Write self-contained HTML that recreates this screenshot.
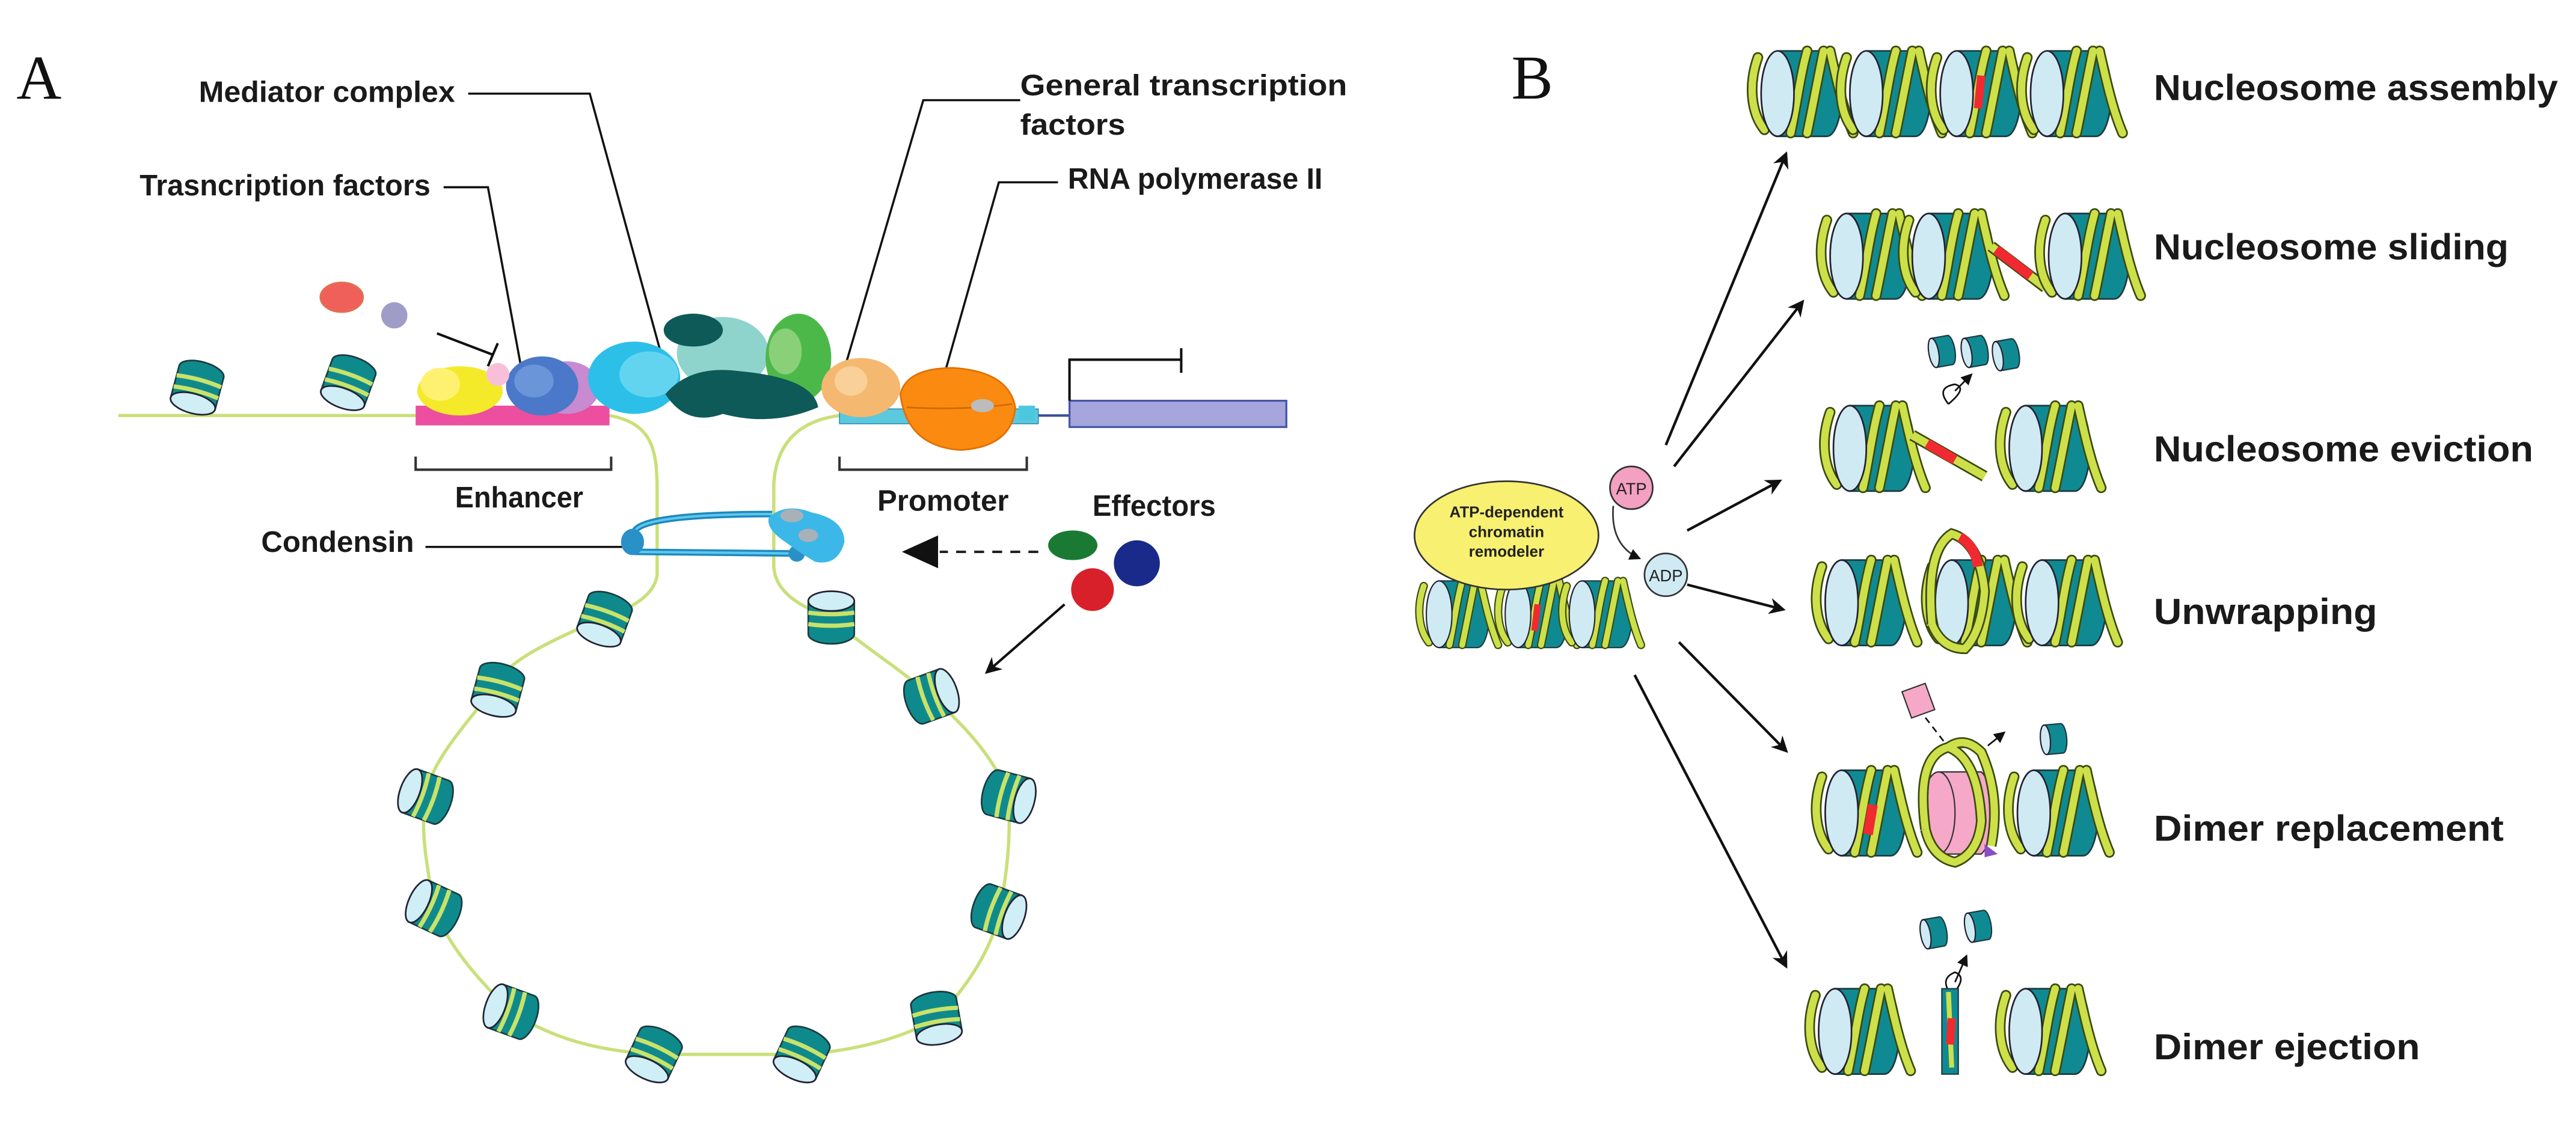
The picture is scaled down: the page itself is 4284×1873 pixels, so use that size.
<!DOCTYPE html>
<html><head><meta charset="utf-8"><style>
html,body{margin:0;padding:0;background:#fff;}
svg{display:block;}
.l{font-family:"Liberation Sans Narrow","Liberation Sans",sans-serif;font-weight:bold;fill:#1a1a1a;}
.s{font-family:"Liberation Serif",serif;fill:#111;}
</style></head><body>
<svg width="4284" height="1873" viewBox="0 0 1568 685.6" preserveAspectRatio="none" xmlns="http://www.w3.org/2000/svg">
<defs>
<g id="na">
 <path d="M-10,-14 L10,-14 A6,14 0 0 1 10,14 L-10,14 Z" fill="#0f8a8c" stroke="#1a3b40" stroke-width="1"/>
 <path d="M-3,-14 Q-1,0 -3,14 M4,-14 Q6,0 4,14" stroke="#c9e26a" stroke-width="2.6" fill="none"/>
 <ellipse cx="-10" cy="0" rx="6" ry="14" fill="#cfeef5" stroke="#223" stroke-width="1"/>
</g>
<g id="nb">
 <path d="M0,-26 L30,-26 A9,26 0 0 1 30,26 L0,26 Z" fill="#0f8a93" stroke="#1d3a40" stroke-width="1"/>
 <g fill="none" stroke-linecap="round">
  <path d="M-12,-22 C-18,-5 -16,12 -8,22 M8,24 C12,5 14,-12 18,-26 M18,24 C22,5 25,-12 28,-26 M32,-26 C36,-8 40,10 46,24" stroke="#3a4a10" stroke-width="6.5"/>
  <path d="M-12,-22 C-18,-5 -16,12 -8,22 M8,24 C12,5 14,-12 18,-26 M18,24 C22,5 25,-12 28,-26 M32,-26 C36,-8 40,10 46,24" stroke="#cde04a" stroke-width="4.5"/>
 </g>
 <ellipse cx="0" cy="0" rx="10" ry="26" fill="#cfeaf3" stroke="#223" stroke-width="1"/>
</g>
<g id="pc">
 <path d="M-5,-9 L5,-9 A3,9 0 0 1 5,9 L-5,9 Z" fill="#0f8a93" stroke="#1d3a40" stroke-width="0.8"/>
 <ellipse cx="-5" cy="0" rx="3" ry="9" fill="#cfeaf3" stroke="#223" stroke-width="0.8"/>
</g>
<marker id="ah" markerWidth="10" markerHeight="10" refX="8" refY="5" orient="auto" markerUnits="userSpaceOnUse">
 <path d="M0,0 L10,5 L0,10 L3,5 Z" fill="#111"/>
</marker>
<marker id="ahs" markerWidth="7" markerHeight="7" refX="6" refY="3.5" orient="auto" markerUnits="userSpaceOnUse">
 <path d="M0,0 L7,3.5 L0,7 Z" fill="#111"/>
</marker>
</defs>

<!-- ===== Panel A ===== -->
<text class="s" x="10" y="60" font-size="38">A</text>

<!-- labels and leader lines -->
<text class="l" x="121" y="62" font-size="18" textLength="156" lengthAdjust="spacingAndGlyphs">Mediator complex</text>
<polyline points="285,57 359,57 402,214" fill="none" stroke="#111" stroke-width="1.3"/>
<text class="l" x="85" y="119" font-size="18" textLength="177" lengthAdjust="spacingAndGlyphs">Trasncription factors</text>
<polyline points="270,114 297,114 318,228" fill="none" stroke="#111" stroke-width="1.3"/>
<text class="l" x="621" y="58" font-size="18" textLength="199" lengthAdjust="spacingAndGlyphs">General transcription</text>
<text class="l" x="621" y="82" font-size="18" textLength="64" lengthAdjust="spacingAndGlyphs">factors</text>
<polyline points="621,61 562,61 513,228" fill="none" stroke="#111" stroke-width="1.3"/>
<text class="l" x="650" y="115" font-size="18" textLength="155" lengthAdjust="spacingAndGlyphs">RNA polymerase II</text>
<polyline points="644,111 608,111 570,245" fill="none" stroke="#111" stroke-width="1.3"/>

<!-- loop DNA -->
<path d="M371,253 C398,258 400,275 400,300 L400,350 Q398,366 368,376 C330,392 305,405 300,420 C280,445 262,465 259,485 C255,510 262,535 264,553 C275,580 295,600 311,616 C340,635 370,640 398,642 L488,642 C520,640 550,632 570,620 C590,600 605,575 608,555 C614,530 615,505 614,485 C605,460 585,440 567,424 C545,405 520,390 506,376 Q472,365 471,345 L471,295 Q473,258 511,253" fill="none" stroke="#c9e07a" stroke-width="2"/>
<line x1="72" y1="253" x2="255" y2="253" stroke="#c9e07a" stroke-width="2"/>
<line x1="630" y1="253" x2="652" y2="253" stroke="#3a4f9a" stroke-width="1.5"/>

<!-- top nucleosomes -->
<use href="#na" transform="translate(120,236) rotate(-75)"/>
<use href="#na" transform="translate(212,233) rotate(-70)"/>

<!-- enhancer bar -->
<rect x="253" y="247" width="118" height="12" fill="#ec4ea0"/>
<!-- promoter bar -->
<rect x="511" y="249" width="121" height="9" fill="#5cc8de" stroke="#2a8fb0" stroke-width="0.6"/>
<!-- gene body -->
<rect x="651" y="244" width="132" height="16" fill="#a6a6dc" stroke="#4456a8" stroke-width="1.2"/>
<polyline points="651,244 651,219 719,219" fill="none" stroke="#111" stroke-width="1.5"/>
<line x1="719" y1="212" x2="719" y2="227" stroke="#111" stroke-width="1.5"/>

<!-- inhibitory signals -->
<ellipse cx="208" cy="181" rx="13" ry="9" fill="#f0605a" stroke="#e07050" stroke-width="1"/>
<circle cx="240" cy="192" r="8" fill="#a09cc8"/>
<line x1="266" y1="203" x2="300" y2="216" stroke="#111" stroke-width="1.5"/>
<line x1="297" y1="223" x2="303" y2="209" stroke="#111" stroke-width="1.5"/>

<!-- protein complexes -->
<g>
 <ellipse cx="280" cy="238" rx="26" ry="15" fill="#f5ea2a"/>
 <ellipse cx="268" cy="234" rx="12" ry="10" fill="#fff170"/>
 <ellipse cx="345" cy="236" rx="20" ry="16" fill="#c88ad0"/>
 <ellipse cx="330" cy="235" rx="22" ry="18" fill="#4b78c8"/>
 <ellipse cx="325" cy="232" rx="12" ry="10" fill="#6a95d8"/>
 <circle cx="303" cy="228" r="7" fill="#f8c0d8"/>
 <ellipse cx="386" cy="230" rx="28" ry="22" fill="#2cc0e8"/>
 <ellipse cx="395" cy="228" rx="18" ry="14" fill="#63d4f0"/>
 <ellipse cx="440" cy="215" rx="28" ry="22" fill="#8fd4cc"/>
 <ellipse cx="422" cy="201" rx="18" ry="10" fill="#0d5a58"/>
 <ellipse cx="486" cy="218" rx="20" ry="27" fill="#4cb84a"/>
 <ellipse cx="478" cy="214" rx="10" ry="14" fill="#8ad078"/>
 <path d="M405,240 Q420,222 450,226 Q495,230 498,248 Q470,260 440,252 Q418,260 405,240 Z" fill="#0d5a58"/>
 <ellipse cx="524" cy="236" rx="24" ry="18" fill="#f4b870"/>
 <ellipse cx="518" cy="232" rx="10" ry="9" fill="#f8d098"/>
 <path d="M548,240 Q552,224 580,224 Q614,226 618,248 Q616,272 585,274 Q552,272 548,240 Z" fill="#fb8a10" stroke="#e07000" stroke-width="1"/>
 <path d="M552,248 Q585,250 616,246" fill="none" stroke="#d06a00" stroke-width="1"/>
 <ellipse cx="598" cy="247" rx="7" ry="4" fill="#bcbcbc"/>
 <rect x="620" y="247" width="10" height="9" fill="#4cc8de"/>
</g>

<!-- brackets -->
<polyline points="253,278 253,286 372,286 372,278" fill="none" stroke="#333" stroke-width="1.5"/>
<text class="l" x="316" y="309" font-size="18" text-anchor="middle" textLength="78" lengthAdjust="spacingAndGlyphs">Enhancer</text>
<polyline points="511,278 511,286 625,286 625,278" fill="none" stroke="#333" stroke-width="1.5"/>
<text class="l" x="574" y="311" font-size="18" text-anchor="middle" textLength="80" lengthAdjust="spacingAndGlyphs">Promoter</text>
<text class="l" x="665" y="314" font-size="18" textLength="75" lengthAdjust="spacingAndGlyphs">Effectors</text>

<!-- condensin -->
<text class="l" x="159" y="336" font-size="18" textLength="93" lengthAdjust="spacingAndGlyphs">Condensin</text>
<line x1="259" y1="333" x2="385" y2="333" stroke="#111" stroke-width="1.3"/>
<g>
 <path d="M386,324 Q390,313 470,313 M386,336 L485,337" fill="none" stroke="#1e88c0" stroke-width="4"/>
 <path d="M386,324 Q390,313 470,313 M386,336 L485,337" fill="none" stroke="#5ec8ea" stroke-width="1.5"/>
 <ellipse cx="385" cy="330" rx="7" ry="8" fill="#2a90c8"/>
 <circle cx="485" cy="337" r="5" fill="#2a90c8"/>
 <path d="M468,315 Q478,306 494,312 Q514,316 514,330 Q510,345 496,342 Q486,336 478,330 Q466,322 468,315 Z" fill="#3cb8e8"/>
 <ellipse cx="482" cy="314" rx="7" ry="4" fill="#a8b0b8"/>
 <ellipse cx="492" cy="326" rx="6" ry="4" fill="#a8b0b8"/>
</g>

<!-- effectors -->
<line x1="632" y1="336" x2="572" y2="336" stroke="#222" stroke-width="1.5" stroke-dasharray="6,5"/>
<path d="M549,336 L571,326 L571,346 Z" fill="#111"/>
<ellipse cx="653" cy="332" rx="15" ry="9" fill="#1a7a34"/>
<circle cx="692" cy="343" r="14" fill="#1a2a8a"/>
<circle cx="665" cy="359" r="13" fill="#d8202a"/>
<line x1="648" y1="368" x2="601" y2="409" stroke="#111" stroke-width="1.5" marker-end="url(#ah)"/>

<!-- loop nucleosomes -->
<use href="#na" transform="translate(368,377) rotate(-70)"/>
<use href="#na" transform="translate(303,420) rotate(-75)"/>
<use href="#na" transform="translate(259,485) rotate(20)"/>
<use href="#na" transform="translate(264,553) rotate(25)"/>
<use href="#na" transform="translate(311,616) rotate(20)"/>
<use href="#na" transform="translate(398,642) rotate(-65)"/>
<use href="#na" transform="translate(488,642) rotate(-65)"/>
<use href="#na" transform="translate(570,620) rotate(-100)"/>
<use href="#na" transform="translate(608,555) rotate(200)"/>
<use href="#na" transform="translate(614,485) rotate(195)"/>
<use href="#na" transform="translate(567,424) rotate(160)"/>
<use href="#na" transform="translate(506,376) rotate(90)"/>

<!-- ===== Panel B ===== -->
<text class="s" x="920" y="60" font-size="38">B</text>

<!-- labels -->
<text class="l" x="1311" y="61" font-size="22" textLength="246" lengthAdjust="spacingAndGlyphs">Nucleosome assembly</text>
<text class="l" x="1311" y="158" font-size="22" textLength="216" lengthAdjust="spacingAndGlyphs">Nucleosome sliding</text>
<text class="l" x="1311" y="281" font-size="22" textLength="231" lengthAdjust="spacingAndGlyphs">Nucleosome eviction</text>
<text class="l" x="1311" y="380" font-size="22" textLength="136" lengthAdjust="spacingAndGlyphs">Unwrapping</text>
<text class="l" x="1311" y="512" font-size="22" textLength="213" lengthAdjust="spacingAndGlyphs">Dimer replacement</text>
<text class="l" x="1311" y="645" font-size="22" textLength="162" lengthAdjust="spacingAndGlyphs">Dimer ejection</text>

<!-- row 1 assembly -->
<use href="#nb" transform="translate(1082,57)"/>
<use href="#nb" transform="translate(1136,57)"/>
<use href="#nb" transform="translate(1191,57)"/>
<use href="#nb" transform="translate(1246,57)"/>
<path d="M1206,46 L1204,66" stroke="#f02a30" stroke-width="5"/>

<!-- row 2 sliding -->
<use href="#nb" transform="translate(1124,156)"/>
<use href="#nb" transform="translate(1174,156)"/>
<path d="M1212,150 L1245,175" stroke="#3a4a10" stroke-width="7"/>
<path d="M1212,150 L1245,175" stroke="#cde04a" stroke-width="5"/>
<path d="M1215,152 L1236,168" stroke="#f02a30" stroke-width="6"/>
<use href="#nb" transform="translate(1257,156)"/>

<!-- row 3 eviction -->
<use href="#pc" transform="translate(1182,214) rotate(-10)"/>
<use href="#pc" transform="translate(1202,214) rotate(-10)"/>
<use href="#pc" transform="translate(1221,216) rotate(-10)"/>
<path d="M1186,246 Q1178,236 1190,234 Q1198,236 1186,246" fill="none" stroke="#111" stroke-width="1"/>
<line x1="1190" y1="238" x2="1200" y2="228" stroke="#111" stroke-width="1" marker-end="url(#ahs)"/>
<use href="#nb" transform="translate(1126,273)"/>
<path d="M1164,265 L1208,290" stroke="#3a4a10" stroke-width="7"/>
<path d="M1164,265 L1208,290" stroke="#cde04a" stroke-width="5"/>
<path d="M1173,270 L1190,280" stroke="#f02a30" stroke-width="6"/>
<use href="#nb" transform="translate(1233,273)"/>

<!-- row 4 unwrapping -->
<use href="#nb" transform="translate(1121,367)"/>
<use href="#nb" transform="translate(1188,367)"/>
<use href="#nb" transform="translate(1243,367)"/>
<path d="M1176,380 Q1172,335 1188,325 Q1205,330 1208,360 Q1206,385 1196,395 Q1182,395 1176,380" fill="none" stroke="#3a4a10" stroke-width="6.5"/>
<path d="M1176,380 Q1172,335 1188,325 Q1205,330 1208,360 Q1206,385 1196,395 Q1182,395 1176,380" fill="none" stroke="#cde04a" stroke-width="4.5"/>
<path d="M1193,327 Q1202,332 1204,345" fill="none" stroke="#f02a30" stroke-width="6"/>

<!-- row 5 dimer replacement -->
<rect x="1160" y="418" width="15" height="17" fill="#f6a8c8" stroke="#333" stroke-width="0.8" transform="rotate(-20 1168 426)"/>
<line x1="1172" y1="437" x2="1186" y2="455" stroke="#111" stroke-width="1" stroke-dasharray="4,3"/>
<polyline points="1186,455 1206,455" fill="none" stroke="#111" stroke-width="1" stroke-dasharray="4,3"/>
<line x1="1210" y1="454" x2="1220" y2="446" stroke="#111" stroke-width="1" marker-end="url(#ahs)"/>
<use href="#pc" transform="translate(1250,450) rotate(-5)"/>
<use href="#nb" transform="translate(1121,495)"/>
<path d="M1180,470 L1206,470 A9,26 0 0 1 1206,520 L1180,520 Z" fill="#f6a8c8" stroke="#333" stroke-width="0.8"/>
<ellipse cx="1180" cy="495" rx="10" ry="25" fill="#f6a8c8" stroke="#333" stroke-width="0.8"/>
<path d="M1208,514 L1216,520 L1208,522 Z" fill="#8a4cc0"/>
<path d="M1172,505 Q1166,460 1186,455 Q1204,462 1206,500 Q1204,520 1190,525 Q1176,522 1172,505 M1186,455 Q1196,448 1206,458 Q1218,485 1212,515" fill="none" stroke="#3a4a10" stroke-width="6.5"/>
<path d="M1172,505 Q1166,460 1186,455 Q1204,462 1206,500 Q1204,520 1190,525 Q1176,522 1172,505 M1186,455 Q1196,448 1206,458 Q1218,485 1212,515" fill="none" stroke="#cde04a" stroke-width="4.5"/>
<path d="M1140,490 L1137,508" stroke="#f02a30" stroke-width="6"/>
<use href="#nb" transform="translate(1238,495)"/>

<!-- row 6 dimer ejection -->
<use href="#pc" transform="translate(1177,568) rotate(-10)"/>
<use href="#pc" transform="translate(1204,564) rotate(-10)"/>
<path d="M1188,606 Q1180,596 1190,592 Q1198,595 1188,606" fill="none" stroke="#111" stroke-width="1"/>
<line x1="1190" y1="598" x2="1197" y2="582" stroke="#111" stroke-width="1" marker-end="url(#ahs)"/>
<use href="#nb" transform="translate(1117,628)"/>
<rect x="1182" y="602" width="10" height="52" fill="#0f8a93" stroke="#1d3a40" stroke-width="0.8"/>
<path d="M1186,604 L1188,650" stroke="#cde04a" stroke-width="3"/>
<path d="M1188,620 L1187,636" stroke="#f02a30" stroke-width="5"/>
<use href="#nb" transform="translate(1233,628)"/>

<!-- remodeler -->
<g transform="translate(876,374) scale(0.78)"><use href="#nb"/></g>
<g transform="translate(924,374) scale(0.78)"><use href="#nb"/></g>
<g transform="translate(963,374) scale(0.78)"><use href="#nb"/></g>
<path d="M936,368 L934,384" stroke="#f02a30" stroke-width="4"/>
<ellipse cx="917" cy="326" rx="56" ry="33" fill="#f8f070" stroke="#333" stroke-width="1"/>
<text x="917" y="315" font-family="Liberation Sans Narrow,Liberation Sans,sans-serif" font-weight="bold" font-size="9.5" text-anchor="middle" fill="#222">ATP-dependent</text>
<text x="917" y="327" font-family="Liberation Sans Narrow,Liberation Sans,sans-serif" font-weight="bold" font-size="9.5" text-anchor="middle" fill="#222">chromatin</text>
<text x="917" y="339" font-family="Liberation Sans Narrow,Liberation Sans,sans-serif" font-weight="bold" font-size="9.5" text-anchor="middle" fill="#222">remodeler</text>

<circle cx="993" cy="297" r="13" fill="#f4a0c0" stroke="#333" stroke-width="1"/>
<text x="993" y="301" font-family="Liberation Sans Narrow,Liberation Sans,sans-serif" font-size="10" text-anchor="middle" fill="#222">ATP</text>
<path d="M982,308 Q980,332 998,340" fill="none" stroke="#333" stroke-width="1" marker-end="url(#ahs)"/>
<circle cx="1014" cy="350" r="13" fill="#cfeaf3" stroke="#333" stroke-width="1"/>
<text x="1014" y="354" font-family="Liberation Sans Narrow,Liberation Sans,sans-serif" font-size="10" text-anchor="middle" fill="#222">ADP</text>

<!-- arrows -->
<g stroke="#111" stroke-width="1.6" marker-end="url(#ah)">
 <line x1="1014" y1="271" x2="1087" y2="94"/>
 <line x1="1019" y1="284" x2="1097" y2="184"/>
 <line x1="1027" y1="323" x2="1083" y2="293"/>
 <line x1="1027" y1="356" x2="1085" y2="371"/>
 <line x1="1022" y1="391" x2="1087" y2="457"/>
 <line x1="995" y1="411" x2="1087" y2="588"/>
</g>
</svg>
</body></html>
